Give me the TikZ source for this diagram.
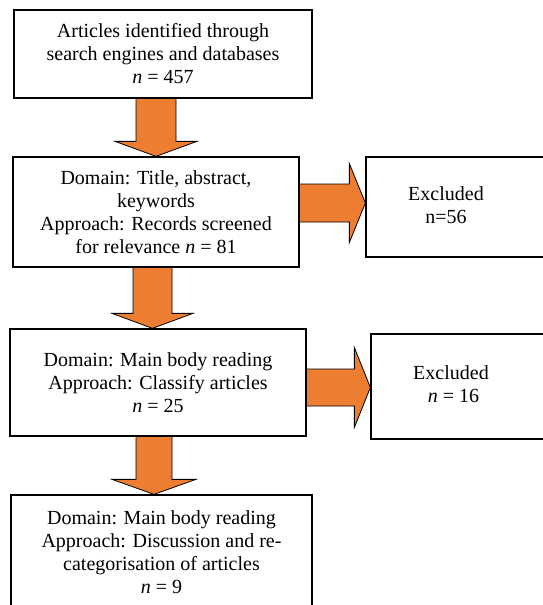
\documentclass[tikz,border=0pt]{standalone}
\usepackage{fontspec}
\setmainfont{Liberation Serif}
\usetikzlibrary{calc,backgrounds}
\definecolor{arroworange}{HTML}{ED7D31}
\tikzset{
    stagebox/.style={draw, line width=1.3pt, align=center, inner sep=0pt,
        font=\fontsize{20}{23}\selectfont},
    blockarr/.style={fill=arroworange, draw=black, line width=0.8pt, line join=miter}
}
% block arrow downwards: from, to, x offset, shaft half width, head half width
\newcommand{\blockdown}[5]{%
    \draw[blockarr] let \p1=([xshift=#3]#1.south), \p2=(#2.north) in
        (\x1-#4,\y1) -- (\x1-#4,\y2+15pt) -- (\x1-#5,\y2+15pt) -- (\x1,\y2)
        -- (\x1+#5,\y2+15pt) -- (\x1+#4,\y2+15pt) -- (\x1+#4,\y1);
}
% block arrow to the right: from, to, y offset, shaft half width, head half width
\newcommand{\blockright}[5]{%
    \draw[blockarr] let \p1=(#1.east), \p2=([yshift=#3]#2.west) in
        (\x1,\y2+#4) -- (\x2-16pt,\y2+#4) -- (\x2-16pt,\y2+#5) -- (\x2,\y2)
        -- (\x2-16pt,\y2-#5) -- (\x2-16pt,\y2-#4) -- (\x1,\y2-#4);
}
\begin{document}
\begin{tikzpicture}[x=1pt,y=1pt]
    \useasboundingbox (0,0) rectangle (543,-605);

    % Draw the stages
    \node[stagebox, minimum width=298pt, minimum height=88pt] (found) at (163,-54)
        {Articles identified through\\ search engines and databases\\ \textit{n} = 457};
    \node[stagebox, minimum width=286pt, minimum height=110pt] (screen) at (156,-212)
        {Domain: Title, abstract,\\ keywords\\ Approach: Records screened\\ for relevance \textit{n} = 81};
    \node[stagebox, minimum width=296pt, minimum height=107pt] (classify) at (158,-382.5)
        {Domain: Main body reading\\ Approach: Classify articles\\ \textit{n} = 25};
    \node[stagebox, minimum width=301pt, minimum height=114pt] (final) at (161.5,-552)
        {Domain: Main body reading\\ Approach: Discussion and re-\\ categorisation of articles\\ \textit{n} = 9};

    % Draw the excluded boxes
    \node[stagebox, minimum width=200pt, minimum height=100pt] (excl1) at (466,-207)
        {\begin{tabular}{@{}c@{\hspace{40pt}}}Excluded\\ n=56\end{tabular}};
    \node[stagebox, minimum width=200pt, minimum height=105pt] (excl2) at (471,-386.5)
        {\begin{tabular}{@{}c@{\hspace{40pt}}}Excluded\\ \ \textit{n} = 16\end{tabular}};

    % Draw the block arrows behind the boxes
    \begin{scope}[on background layer]
        \blockdown{found}{screen}{-7pt}{20pt}{41pt}
        \blockdown{screen}{classify}{-3.5pt}{19.5pt}{40.5pt}
        \blockdown{classify}{final}{-4pt}{18pt}{42pt}
        \blockright{screen}{excl1}{4pt}{19pt}{39.5pt}
        \blockright{classify}{excl2}{-1pt}{18.5pt}{40pt}
    \end{scope}
\end{tikzpicture}
\end{document}
